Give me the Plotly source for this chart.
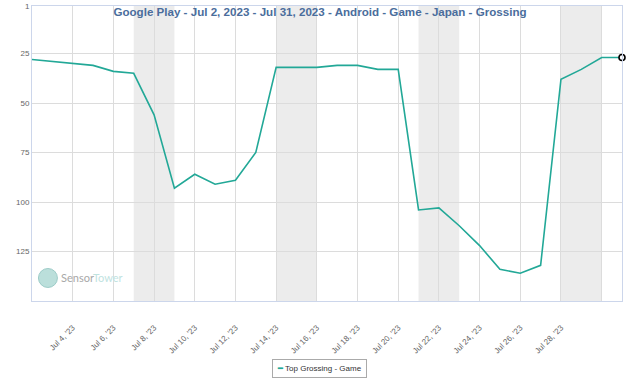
import plotly.graph_objects as go
import pandas as pd

dates = pd.date_range("2023-07-02", "2023-07-31", freq="D")
ranks = [28, 29, 30, 31, 34, 35, 56, 93, 86, 91, 89, 75, 32, 32, 32, 31, 31, 33, 33,
         104, 103, 112, 122, 134, 136, 132, 38, 33, 27, 27]
weekend_bands = [("2023-07-07", "2023-07-09"), ("2023-07-14", "2023-07-16"),
                 ("2023-07-21", "2023-07-23"), ("2023-07-28", "2023-07-30")]
tick_dates = pd.date_range("2023-07-02", "2023-07-30", freq="2D")
tick_text = ["" if d.day in (2, 30) else d.strftime("Jul %-d, '23") for d in tick_dates]
y_ticks = [1, 25, 50, 75, 100, 125]
series_name = "Top Grossing - Game"
title = "Google Play - Jul 2, 2023 - Jul 31, 2023 - Android - Game - Japan - Grossing"

line_color = "#22a897"

fig = go.Figure()
fig.add_trace(go.Scatter(x=dates, y=ranks, mode="lines", name=series_name,
                         line=dict(color=line_color, width=1.6)))
fig.add_trace(go.Scatter(x=[dates[-1]], y=[ranks[-1]], mode="markers", showlegend=False,
                         cliponaxis=False,
                         marker=dict(color="white", size=6, line=dict(color="black", width=1.6))))

for x0, x1 in weekend_bands:
    fig.add_shape(type="rect", xref="x", yref="paper", x0=x0, x1=x1, y0=0, y1=1,
                  fillcolor="#ececec", line_width=0, layer="below")

# watermark
fig.add_shape(type="circle", xref="paper", yref="paper", xsizemode="pixel", ysizemode="pixel",
              xanchor=0.027, yanchor=0.078, x0=-9.5, x1=9.5, y0=-9.5, y1=9.5,
              fillcolor="rgba(170,215,210,0.8)", line=dict(color="rgba(150,200,195,0.9)", width=1))
fig.add_annotation(xref="paper", yref="paper", x=0.045, y=0.078, xanchor="left", yanchor="middle",
                   text="<span style='color:#a8a8a8'>Sensor</span><span style='color:#bfe3df'>Tower</span>",
                   showarrow=False, font=dict(size=11, family="Lato, Arial"))

# legend box (compact, like the original)
fig.add_annotation(xref="paper", yref="paper", x=0.488, y=-0.2305, xanchor="center", yanchor="middle",
                   text=f"<span style='color:{line_color};font-weight:bold'>━</span> {series_name}",
                   showarrow=False, font=dict(size=8, color="#333333"),
                   bordercolor="#aaaaaa", borderwidth=1, borderpad=4, bgcolor="white")

fig.update_layout(
    width=640, height=384,
    margin=dict(l=32, r=18, t=6, b=83, autoexpand=False),
    plot_bgcolor="white", paper_bgcolor="white",
    showlegend=False,
    font=dict(family="Liberation Sans, Arial", color="#666666"),
    title=dict(text="<b>" + title + "</b>", x=0.5, xanchor="center", y=1 - 12 / 384, yanchor="middle",
               font=dict(size=11.6, color="#4a6d9c")),
    xaxis=dict(range=[dates[0], dates[-1]], tickvals=tick_dates, ticktext=tick_text,
               tickangle=-45, tickfont=dict(size=8, color="#666666"), automargin=False,
               ticklabelstandoff=18,
               showgrid=True, gridcolor="#dcdcdc", gridwidth=1,
               showline=True, linecolor="#ccd6eb", mirror=True, zeroline=False, ticks=""),
    yaxis=dict(range=[150, 1], autorange=False, tickvals=y_ticks, automargin=False,
               tickfont=dict(size=8, color="#666666"),
               showgrid=True, gridcolor="#dcdcdc", gridwidth=1,
               showline=True, linecolor="#ccd6eb", mirror=True, zeroline=False, ticks=""),
)

fig.write_html("out.html", config={"displayModeBar": False},
               post_script="document.body.style.margin='0';")
